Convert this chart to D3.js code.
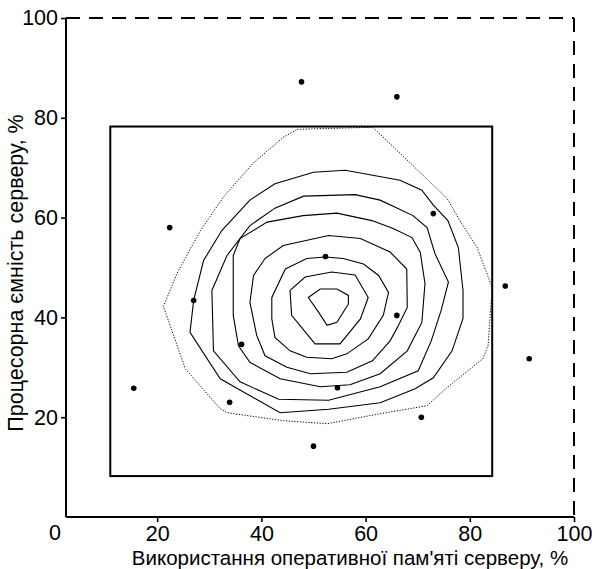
<!DOCTYPE html>
<html>
<head>
<meta charset="utf-8">
<script src="https://cdn.jsdelivr.net/npm/d3@7"></script>
<style>
  body { margin: 0; background: #fff; }
  svg { display: block; }
  text { font-family: "Liberation Sans", Arial, sans-serif; fill: #000; }
</style>
</head>
<body>
<svg id="chart" width="592" height="569"></svg>
<script>
// ---------------- data ----------------
const memUsage    = [47.7, 66.0, 22.4, 73.0, 52.3, 27.0, 86.8, 66.0, 36.2, 91.4, 15.5, 54.6, 33.9, 70.7, 50.0];
const cpuCapacity = [87.2, 84.2, 58.0, 60.8, 52.2, 43.4, 46.3, 40.4, 34.6, 31.7, 25.8, 25.9, 23.0, 20.0, 14.2];

const xTicks = [20, 40, 60, 80, 100];
const yTicks = [20, 40, 60, 80, 100];
const originLabel = "0";
const xTitle = "Використання оперативної пам'яті серверу, %";
const yTitle = "Процесорна ємність серверу, %";

// inner frame (x range, y range)
const frameX = [11.0, 84.3];
const frameY = [8.2, 78.25];

// density contour lines, outermost (dotted) to innermost, [memory %, cpu %]
const contourOuter = [[46.9,77.7],[61.4,78.1],[75.6,63.9],[78.1,59.4],[81.4,54.0],[84.3,46.0],[83.5,34.3],[82.5,31.7],[75.6,25.9],[71.8,22.3],[62.8,20.7],[52.6,18.7],[44.2,19.3],[33.4,20.9],[32.1,21.7],[25.4,29.7],[21.2,42.2],[23.8,48.8],[28.3,57.4],[32.7,64.1],[38.4,70.9],[44.2,76.1]];
const contour1 = [[26.3,37.0],[27.0,43.4],[28.9,51.4],[32.4,57.4],[37.8,63.5],[42.6,66.8],[50.0,69.1],[56.1,69.5],[66.6,67.5],[70.8,65.5],[73.0,62.5],[75.8,59.4],[77.8,54.0],[78.7,45.4],[78.7,39.8],[76.6,33.3],[73.0,27.9],[69.5,25.7],[62.8,22.9],[52.9,21.6],[43.6,20.9],[32.1,27.7]];
const contour2 = [[30.5,45.4],[33.4,52.4],[37.8,58.4],[42.6,61.9],[48.1,64.3],[58.0,64.6],[62.8,63.5],[69.1,60.4],[71.8,58.0],[73.3,52.8],[75.9,47.1],[74.5,41.4],[72.6,35.3],[70.1,29.3],[62.8,26.1],[52.9,23.4],[43.3,23.6],[35.9,27.1],[30.8,33.3]];
const contour3 = [[34.6,52.4],[35.9,55.8],[41.1,59.1],[48.0,60.4],[54.5,60.9],[61.2,59.4],[65.3,57.8],[68.9,56.0],[70.5,53.0],[71.4,46.8],[70.8,39.0],[68.0,33.3],[62.8,28.7],[57.0,26.5],[51.3,26.1],[43.6,27.7],[37.8,31.0],[35.6,34.3],[34.6,40.4]];
const contour4 = [[40.7,51.8],[44.2,54.4],[52.9,56.4],[59.0,55.8],[64.7,53.1],[67.9,49.7],[68.0,42.0],[66.2,38.2],[64.7,35.3],[61.3,31.3],[56.4,29.0],[49.4,28.7],[44.9,30.0],[40.7,32.3],[39.1,36.4],[37.8,43.0],[38.5,48.4]];
const contour5 = [[44.6,49.7],[48.7,51.8],[52.2,52.1],[55.7,51.8],[59.6,50.7],[62.5,48.4],[64.4,45.0],[63.4,40.4],[60.5,35.7],[56.4,32.7],[53.5,31.7],[48.7,32.0],[45.5,33.3],[42.6,36.0],[42.0,39.7],[42.0,44.0]];
const contour6 = [[45.5,45.4],[48.4,48.1],[53.5,49.1],[58.0,48.5],[60.5,44.0],[59.0,39.7],[55.1,34.7],[50.3,34.7],[45.8,40.4]];
const contour7 = [[49.0,44.0],[51.3,45.7],[54.5,45.7],[56.7,44.4],[56.7,42.7],[54.5,39.0],[52.6,38.4],[51.0,41.0]];
const solidContours = [contour1, contour2, contour3, contour4, contour5, contour6, contour7];

// ---------------- layout ----------------
const xMinAxis = 2.5, xMaxAxis = 100, yMinAxis = 0, yMaxAxis = 100;
const x = d3.scaleLinear().domain([xMinAxis, xMaxAxis]).range([66, 574]);
const y = d3.scaleLinear().domain([yMinAxis, yMaxAxis]).range([517, 18]);

const svg = d3.select("#chart");
const FS = 21.5;
const TITLE_FS = 20.5;

// frame of the plot: dashed top/right
const axisG = svg.append("g");
axisG.append("line")
  .attr("x1", x(xMinAxis)).attr("x2", x(xMaxAxis))
  .attr("y1", y(yMaxAxis)).attr("y2", y(yMaxAxis))
  .attr("stroke", "#000").attr("stroke-width", 2).attr("stroke-dasharray", "14,9");
axisG.append("line")
  .attr("x1", x(xMaxAxis)).attr("x2", x(xMaxAxis))
  .attr("y1", y(yMaxAxis)).attr("y2", y(yMinAxis))
  .attr("stroke", "#000").attr("stroke-width", 2).attr("stroke-dasharray", "14,9");

// inner rectangle
svg.append("rect")
  .attr("x", x(frameX[0])).attr("y", y(frameY[1]))
  .attr("width", x(frameX[1]) - x(frameX[0]))
  .attr("height", y(frameY[0]) - y(frameY[1]))
  .attr("fill", "none").attr("stroke", "#000").attr("stroke-width", 2);

// contours
const line = d3.line().x(d => x(d[0])).y(d => y(d[1])).curve(d3.curveLinearClosed);
svg.append("path").datum(contourOuter)
  .attr("d", line).attr("fill", "none").attr("stroke", "#000")
  .attr("stroke-width", 1).attr("stroke-dasharray", "1.2,1.6");
svg.append("g").selectAll("path").data(solidContours).join("path")
  .attr("d", line).attr("fill", "none").attr("stroke", "#000").attr("stroke-width", 1.1);

// points
svg.append("g").selectAll("circle").data(memUsage).join("circle")
  .attr("cx", d => x(d)).attr("cy", (d, i) => y(cpuCapacity[i]))
  .attr("r", 2.8).attr("fill", "#000");

// axes
const gx = svg.append("g").attr("transform", `translate(0,${y(yMinAxis)})`)
  .call(d3.axisBottom(x).tickValues(xTicks).tickSize(5).tickPadding(4).tickFormat(d3.format("d")));
const gy = svg.append("g").attr("transform", `translate(${x(xMinAxis)},0)`)
  .call(d3.axisLeft(y).tickValues(yTicks).tickSize(5).tickPadding(3).tickFormat(d3.format("d")));
[gx, gy].forEach(g => {
  g.select(".domain").remove();
  g.selectAll(".tick line").attr("stroke", "#000").attr("stroke-width", 1.6);
  g.selectAll(".tick text").attr("font-size", FS).attr("font-family", null).attr("fill", "#000");
});

// solid axis lines
svg.append("line")
  .attr("x1", x(xMinAxis)).attr("x2", x(xMinAxis))
  .attr("y1", y(yMaxAxis)).attr("y2", y(yMinAxis))
  .attr("stroke", "#000").attr("stroke-width", 2);
svg.append("line")
  .attr("x1", x(xMinAxis)).attr("x2", x(xMaxAxis))
  .attr("y1", y(yMinAxis)).attr("y2", y(yMinAxis))
  .attr("stroke", "#000").attr("stroke-width", 2);

// origin label
svg.append("text")
  .attr("x", x(xMinAxis) - 11).attr("y", y(yMinAxis) + 23)
  .attr("text-anchor", "middle").attr("font-size", FS).text(originLabel);

// titles
svg.append("text")
  .attr("x", 350).attr("y", 564.5)
  .attr("text-anchor", "middle").attr("font-size", TITLE_FS).text(xTitle);
svg.append("text")
  .attr("transform", "translate(23,273) rotate(-90)")
  .attr("text-anchor", "middle").attr("font-size", FS).text(yTitle);
</script>
</body>
</html>
